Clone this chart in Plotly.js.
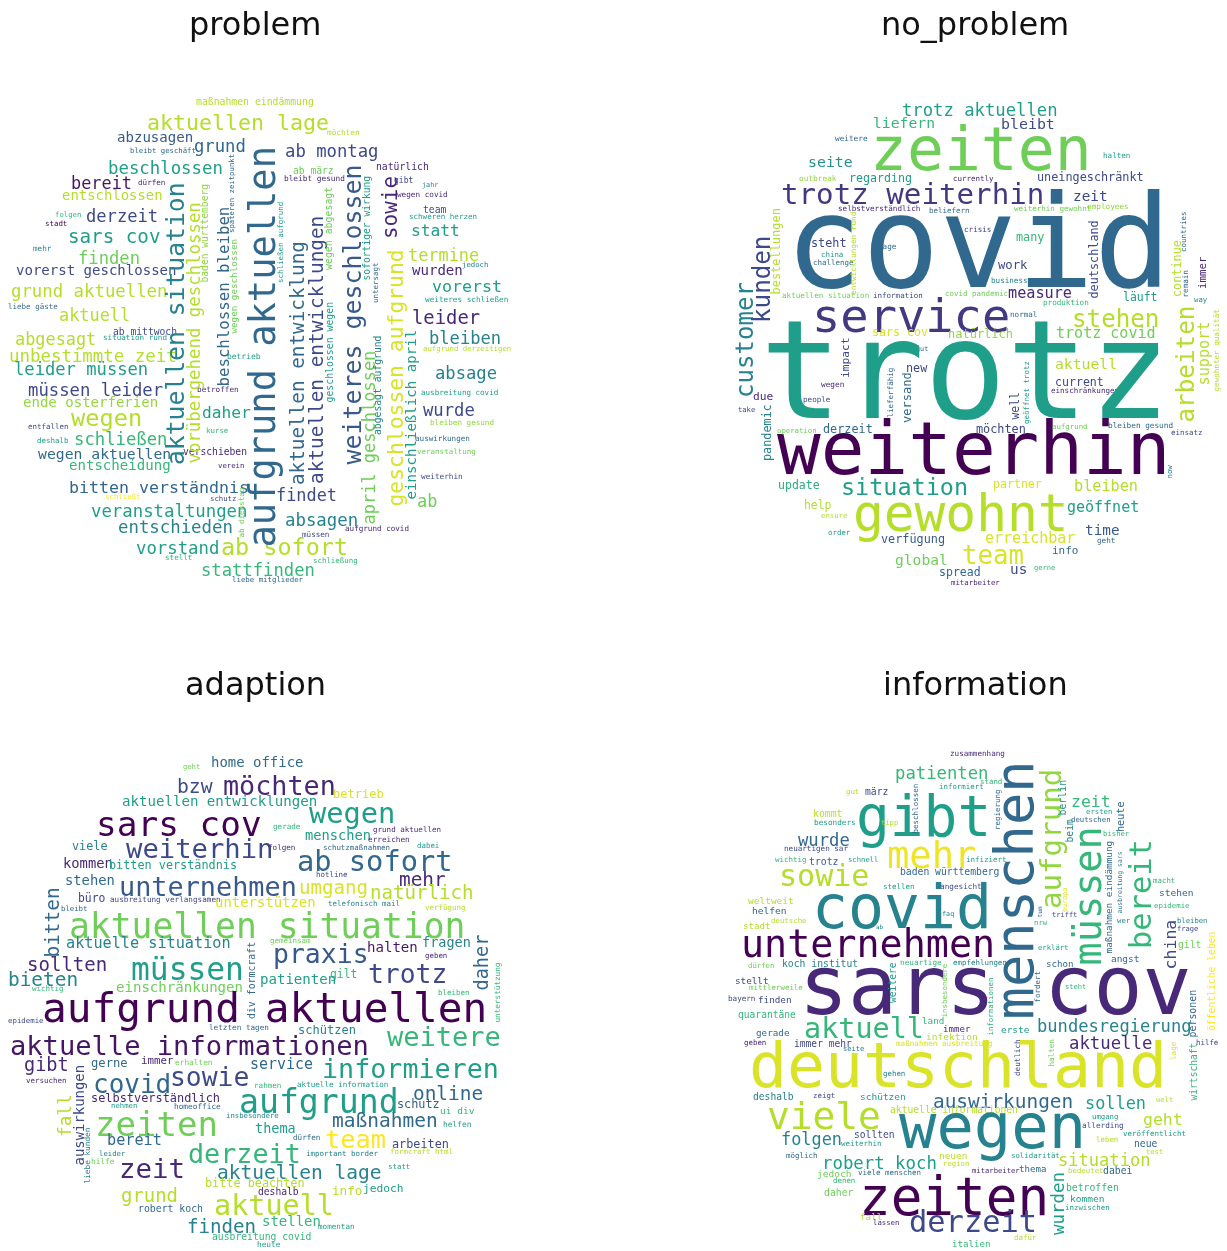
<!DOCTYPE html>
<html><head><meta charset="utf-8">
<script src="https://cdn.plot.ly/plotly-3.0.1.min.js"></script>
<style>html,body{margin:0;padding:0;background:#fff}#chart{width:1227px;height:1251px;filter:blur(0.45px)}</style>
</head><body><div id="chart"></div>
<script>
const titles = ["problem","no_problem","adaption","information"];
// Horizontal words: [word, left, right, middle, viridis shade 0-9]
// Vertical words:   [word, middle, top, bottom, viridis shade 0-9]
const problemH = [
["maßnahmen eindämmung",197,313,102,8],["aktuellen lage",148,327,123,8],["möchten",327,359,133,8],["abzusagen",117,192,138,2.5],["grund",194,245,147,3],["bleibt geschäft",130,195,151,3],["ab montag",285,377,152,2],["natürlich",376,428,167,1],["ab märz",293,333,171,7],["bleibt gesund",284,344,179,1],["gibt",394,413,181,2],["jahr",422,438,185,4],["beschlossen",109,222,169,5],["bereit",71,131,184,0.5],["dürfen",138,165,183,1],["entschlossen",63,162,196,8],["derzeit",86,157,217,2],["folgen",55,81,215,6],["stadt",45,67,224,0],["sars cov",69,160,237,5],["mehr",33,51,249,4],["finden",78,139,259,7],["vorerst geschlossen",17,175,271,2],["grund aktuellen",12,166,292,8],["liebe gäste",8,57,307,3],["aktuell",59,129,316,8],["ab mittwoch",113,176,332,2],["situation rund",103,166,338,5],["abgesagt",15,95,340,8],["unbestimmte zeit",10,175,357,8],["leider müssen",15,147,370,5],["müssen leider",29,162,391,2],["ende osterferien",24,157,403,7.5],["wegen",71,141,419,8],["entfallen",28,68,427,2],["schließen",74,166,440,6],["deshalb",37,68,441,5],["wegen aktuellen",39,170,454,3],["entscheidung",70,170,466,6],["bitten verständnis",70,247,488,3],["schließt",105,140,497,9],["schutz",210,236,499,2],["veranstaltungen",92,246,512,5],["entschieden",119,232,528,4],["vorstand",136,218,549,5],["ab sofort",222,347,548,8],["stellt",165,192,558,6],["stattfinden",202,314,571,6],["liebe mitglieder",233,303,580,3],["schließung",313,357,561,6],["müssen",302,329,535,2],["aufgrund covid",345,408,529,1],["absagen",285,357,521,4],["findet",276,336,496,2],["ab",417,437,502,7],["weiterhin",421,462,477,2],["veranstaltung",417,475,452,7],["auswirkungen",415,469,439,3],["bleiben gesund",430,493,423,7.5],["wurde",423,474,411,2],["ausbreitung covid",421,497,393,5],["absage",435,496,374,4],["aufgrund derzeitigen",423,510,349,8],["bleiben",429,500,339,4],["leider",412,479,318,1],["weiteres schließen",425,507,300,5],["vorerst",432,501,287,5],["wurden",412,462,271,1],["jedoch",462,488,265,4],["termine",408,478,256,8],["statt",411,459,231,5],["schweren herzen",409,476,217,5],["team",423,446,210,2],["wegen covid",397,447,195,1],["betrieb",227,260,357,5],["betroffen",197,238,390,1],["daher",202,250,413,5],["kurse",206,228,431,6],["verschieben",183,246,452,1],["verein",218,244,466,1]
];
const problemV = [
["aufgrund aktuellen",262,150,545,3],["aktuellen situation",175,185,463,4],["vorübergehend geschlossen",193,205,462,8],["baden württemberg",204,185,282,7.5],["beschlossen bleiben",223,208,385,3],["späteren zeitpunkt",232,155,233,3],["wegen geschlossen",233,240,333,7],["schließen aufgrund",281,203,283,5],["aktuellen entwicklung",297,243,483,3],["aktuellen entwicklungen",316,218,482,2],["wegen abgesagt",329,188,270,7],["geschlossen wegen",329,303,402,5],["weiteres geschlossen",352,167,462,2.5],["sofortiger wirkung",366,177,280,5],["untersagt",375,263,303,3],["april geschlossen",368,352,523,7],["abgesagt aufgrund",377,337,435,4],["sowie",390,177,239,1],["geschlossen aufgrund",395,252,505,8.5],["einschließlich april",410,331,498,5],["ab dienstag",241,488,537,7]
];
const noProblemH = [
["trotz aktuellen",903,1056,111,5],["liefern",873,934,123,6],["bleibt",1001,1054,125,2],["zeiten",872,1090,151,7],["weitere",835,867,139,3],["halten",1103,1130,156,5],["seite",808,852,163,4.5],["regarding",849,911,178,5],["outbreak",799,836,179,7.5],["currently",953,993,179,1],["uneingeschränkt",1038,1143,177,2],["trotz weiterhin",783,1042,195,1.5],["zeit",1073,1107,197,2],["selbstverständlich",838,919,209,1],["beliefern",929,969,211,3],["weiterhin gewohnt",1014,1090,209,7],["employees",1087,1128,207,7.5],["covid",788,1168,248,3],["steht",811,846,243,2],["china",821,843,255,5],["lage",878,896,247,3],["crisis",964,991,230,2],["challenge",813,853,263,3],["many",1016,1044,237,6],["work",998,1027,265,2],["business",991,1027,281,4],["measure",1008,1071,294,1],["covid pandemic",945,1007,294,7],["aktuellen situation",782,868,296,7],["information",873,922,296,2],["produktion",1043,1088,303,6],["läuft",1123,1157,297,5],["way",1194,1207,300,4],["normal",1010,1037,315,3],["service",813,1008,317,1.5],["stehen",1072,1158,320,8],["natürlich",948,1012,334,7.5],["sars cov",872,927,332,8.5],["trotz covid",1057,1155,334,7],["aktuell",1055,1116,364,8],["current",1055,1103,382,2],["einschränkungen",1051,1118,391,1],["new",906,927,368,2],["gut",916,928,349,3],["wegen",821,844,385,1],["people",803,830,400,2],["due",753,773,397,1],["take",738,755,410,2],["trotz",763,1167,376,5],["weiterhin",780,1167,452,0],["derzeit",823,872,429,3],["möchten",976,1025,429,2],["aufgrund",1052,1087,427,7],["bleiben gesund",1108,1172,426,3],["einsatz",1171,1202,433,2],["operation",777,816,431,7],["situation",842,967,488,5],["update",778,819,485,5.5],["partner",993,1041,484,8.5],["bleiben",1074,1137,487,8],["gewohnt",855,1067,516,8],["geöffnet",1067,1138,508,5],["help",804,831,505,8],["ensure",821,847,516,8],["order",828,850,533,5],["verfügung",881,944,539,2.5],["erreichbar",985,1074,539,8.5],["time",1085,1119,531,2.5],["info",1052,1078,551,3],["geht",1097,1115,541,3],["team",962,1023,556,8.5],["global",895,947,560,7],["spread",939,980,572,3],["us",1010,1027,570,2],["gerne",1034,1055,568,6],["mitarbeiter",951,999,583,1]
];
const noProblemV = [
["customer",745,283,397,4],["kunden",762,237,323,2],["bestellungen",776,209,294,8],["entwicklungen rund",854,213,295,8],["impact",845,338,378,2],["pandemic",767,405,461,4],["lieferfähig",890,368,417,3],["versand",907,373,423,3],["well",1014,393,420,2],["geöffnet trotz",1026,362,424,5],["deutschland",1093,221,298,2],["continue",1177,241,297,8],["countries",1184,212,252,3],["remain",1185,271,298,3],["immer",1202,257,289,1],["arbeiten",1185,307,422,8],["support",1203,322,385,8],["gewohnter qualität",1216,310,391,8],["now",1169,465,478,4]
];
const adaptionH = [
["geht",183,200,767,7],["home office",212,303,763,3],["möchten",224,335,787,1],["bzw",177,212,787,2],["betrieb",333,383,794,8.5],["aktuellen entwicklungen",123,315,802,5],["wegen",309,394,814,5],["sars cov",97,260,825,0],["gerade",273,300,827,6],["menschen",305,370,836,5],["grund aktuellen",373,440,830,1],["erreichen",368,409,840,1],["viele",72,107,846,4],["weiterhin",127,272,850,2],["folgen",268,295,848,1],["schutzmaßnahmen",323,389,848,3],["dabei",417,439,846,5],["ab sofort",298,451,862,3],["kommen",63,112,864,1],["bitten verständnis",110,236,865,5],["hotline",316,347,875,2],["stehen",65,114,881,3],["mehr",399,445,880,1],["unternehmen",120,295,888,2.5],["umgang",299,367,888,8.5],["natürlich",371,473,893,8],["büro",78,105,898,2],["ausbreitung verlangsamen",111,220,900,2],["unterstützen",216,315,903,8.5],["telefonisch mail",328,399,904,4],["verfügung",425,465,908,8],["bleibt",61,87,909,3],["aktuellen situation",72,462,927,7],["aktuelle situation",67,229,944,4],["gemeinsam",270,310,941,7],["fragen",422,470,943,4],["halten",367,417,948,0.5],["praxis",274,368,955,2.5],["geben",425,447,956,1],["sollten",27,106,965,1],["müssen",132,243,970,5],["trotz",368,446,975,2],["gilt",330,357,974,6],["patienten",260,335,980,5],["bieten",8,77,980,4],["einschränkungen",117,242,988,7],["wichtig",32,63,989,6],["bleiben",438,469,993,6],["epidemie",8,43,1021,2],["aufgrund aktuellen",45,483,1010,0],["letzten tagen",209,268,1028,3],["schützen",298,355,1030,4],["aktuelle informationen",13,366,1047,0.5],["weitere",388,500,1038,6],["gibt",24,68,1065,1],["gerne",91,127,1063,3],["immer",141,173,1061,1],["erhalten",175,212,1063,7],["service",250,312,1065,3],["informieren",323,497,1070,5],["covid",93,170,1085,3],["sowie",170,248,1078,2],["versuchen",26,66,1081,1],["rahmen",254,281,1086,6],["aktuelle information",297,387,1085,5],["online",413,482,1094,3],["selbstverständlich",92,219,1098,1],["aufgrund",240,397,1103,5],["schutz",397,439,1104,2.5],["ui div",440,474,1111,6],["nehmen",111,137,1106,5],["homeoffice",174,220,1107,3],["insbesondere",226,278,1116,4],["zeiten",96,217,1125,7],["maßnahmen",333,437,1121,3],["thema",255,295,1129,5],["helfen",443,471,1125,5],["dürfen",293,320,1138,3],["team",325,385,1140,9],["arbeiten",392,448,1144,2],["bereit",107,161,1141,3],["derzeit",189,300,1155,6],["leider",99,125,1154,4],["important border",307,378,1154,4],["formcraft html",390,452,1152,8],["hilfe",91,114,1162,7],["statt",388,410,1167,5],["zeit",119,184,1170,1],["aktuellen lage",218,380,1173,4],["bitte beachten",206,304,1183,8],["info",332,362,1191,8],["jedoch",363,403,1189,5],["deshalb",258,298,1192,1],["grund",121,177,1196,8],["aktuell",215,333,1207,8],["robert koch",138,202,1209,3],["finden",187,255,1227,4],["stellen",262,320,1222,6],["momentan",318,354,1227,5],["ausbreitung covid",212,310,1237,6],["heute",257,280,1245,5]
];
const adaptionV = [
["bitten",52,888,957,3],["div formcraft",251,943,1019,3],["unterstützung",497,963,1022,6],["daher",481,935,990,3],["fall",65,1095,1137,8],["auswirkungen",78,1066,1165,2],["liebe kunden",87,1128,1183,4]
];
const informationH = [
["zusammenhang",950,1004,754,1],["patienten",895,987,774,6],["stand",980,1002,782,6],["gut",846,859,792,8],["märz",865,888,792,2],["informiert",939,983,787,5],["gibt",857,990,819,5],["zeit",1071,1110,802,6],["ersten",1086,1112,812,5],["kommt",813,842,814,8],["besonders",814,855,823,5],["tipp",881,898,823,8],["deutschen",1071,1110,820,3],["bisher",1103,1129,834,6],["wurde",798,849,841,3],["neuartigen sar",784,847,849,2],["wichtig",775,806,860,6],["trotz",809,838,862,2.5],["schnell",848,878,860,5],["infiziert",966,1006,860,5],["mehr",887,975,857,8.8],["sowie",779,868,877,8],["baden württemberg",900,998,872,3],["macht",1153,1175,881,6],["stellen",883,914,887,5],["angesicht",940,981,887,2],["stehen",1159,1193,893,3],["weltweit",748,793,901,8],["helfen",752,786,911,3],["epidemie",1154,1189,906,6],["covid",813,990,910,4],["deutsche",771,806,921,8],["trifft",1052,1077,915,2],["faq",942,954,914,4],["wer",1117,1130,921,4],["bleiben",1177,1207,921,4],["frage",1177,1198,929,2],["stadt",743,770,926,8],["ab",876,883,927,4],["nrw",1034,1047,923,6],["gilt",1178,1201,945,7],["erklärt",1038,1068,948,5],["unternehmen",743,993,945,0],["angst",1111,1139,959,3],["koch institut",782,857,964,4],["neuartige",900,941,963,6],["empfehlungen",953,1006,963,4],["schon",1046,1073,964,3],["dürfen",748,774,966,7],["stellt",735,768,981,2],["mittlerweile",749,802,988,7],["steht",1065,1086,987,6],["sars cov",802,1188,989,1],["bayern",728,755,999,2],["finden",758,791,1000,2],["quarantäne",738,795,1015,6],["aktuell",805,923,1030,6],["land",922,944,1021,6],["immer",943,970,1029,1],["erste",1001,1029,1030,5],["bundesregierung",1038,1190,1027,4],["gerade",756,789,1033,3],["infektion",926,977,1037,8],["geben",744,766,1043,1],["immer mehr",794,851,1044,2],["maßnahmen ausbreitung",896,991,1044,8.5],["hilfe",1196,1218,1043,2],["aktuelle",1069,1151,1044,1],["seite",843,864,1049,4],["deutschland",752,1163,1068,8.5],["gehen",883,905,1074,4],["deshalb",753,793,1097,4],["zeigt",813,835,1096,2],["schützen",860,905,1097,5],["welt",1156,1173,1100,8],["auswirkungen",934,1072,1102,3],["sollen",1085,1145,1104,5],["aktuelle informationen",891,1017,1110,8],["viele",768,880,1118,8],["umgang",1092,1118,1117,5],["geht",1143,1182,1120,8],["allerding",1082,1123,1126,2],["sollten",854,894,1135,2],["veröffentlicht",1123,1185,1134,5],["leben",1096,1118,1140,8],["wegen",900,1084,1129,4],["folgen",781,841,1140,4],["weiterhin",841,881,1144,5],["neue",1134,1157,1144,3],["test",1146,1163,1152,8],["möglich",786,817,1156,3],["neuen",939,967,1156,8],["solidarität",1011,1059,1156,5],["situation",1058,1149,1161,8],["robert koch",823,936,1164,5],["region",943,969,1164,8],["jedoch",817,851,1174,7],["viele menschen",858,920,1173,3],["mitarbeiter",972,1019,1171,1],["thema",1019,1046,1169,3],["bedeutet",1068,1103,1171,8],["dabei",1103,1132,1171,3],["denen",833,855,1181,6],["zeiten",860,1047,1199,0],["betroffen",1066,1118,1188,6],["daher",824,853,1193,7],["kommen",1070,1104,1199,5],["inzwischen",1065,1109,1208,5],["fall",860,882,1217,8],["lassen",873,899,1223,1],["derzeit",910,1036,1223,2],["dafür",1014,1036,1238,8],["italien",952,990,1244,6]
];
const informationV = [
["menschen",1014,763,1018,3],["aufgrund",1051,770,908,7.5],["müssen",1087,828,965,6],["bereit",1140,840,948,6],["china",1170,920,969,2],["berlin",1062,780,815,4.5],["beim",1069,819,842,4],["heute",1120,802,832,3],["beschlossen",915,784,833,3],["regierung",997,790,830,3],["maßnahmen eindämmung",1108,842,953,3],["ausbreitung sars",1119,852,913,3.5],["europa",1065,888,912,8.5],["tun",1039,907,918,3],["personen",1192,990,1037,3],["öffentliche leben",1211,933,1031,9],["wirtschaft",1193,1043,1100,6],["lage",1173,1042,1060,8.5],["deutlich",1017,1040,1076,2],["halten",1051,1040,1067,7],["wurden",1058,1173,1235,5],["weitere",892,963,1003,5],["insbesondere",944,964,1017,7],["informationen",990,978,1035,5.5],["fordert",1037,972,1003,3]
];

const viridis = [[68,1,84],[72,40,120],[62,73,137],[49,104,142],[38,130,142],[31,158,137],[53,183,121],[110,206,88],[181,222,43],[253,231,37]];
function shade(v){
  const i = Math.min(8, Math.floor(v)), t = v - i;
  const c = viridis[i].map((a,k)=>Math.round(a + (viridis[i+1][k]-a)*t));
  return `rgb(${c[0]},${c[1]},${c[2]})`;
}
const W = 1227, H = 1251, CHAR = 0.592, FONT = "DejaVu Sans Mono, monospace";
const panels = [
  {h:problemH, v:problemV, xr:[0,510], yr:[600,80], tx:255, ty:24},
  {h:noProblemH, v:noProblemV, xr:[720,1227], yr:[600,80], tx:975, ty:24},
  {h:adaptionH, v:adaptionV, xr:[0,510], yr:[1251,740], tx:255, ty:684},
  {h:informationH, v:informationV, xr:[720,1227], yr:[1251,740], tx:975, ty:684}
];
const layout = {width:W, height:H, margin:{l:0,r:0,t:0,b:0}, paper_bgcolor:"#fff", plot_bgcolor:"#fff", showlegend:false, annotations:[]};
const traces = [];
panels.forEach((p,i)=>{
  const n = i===0 ? "" : String(i+1);
  const axis = {visible:false, fixedrange:true, autorange:false, showgrid:false, zeroline:false};
  layout["xaxis"+n] = {...axis, range:p.xr, domain:[p.xr[0]/W, p.xr[1]/W], anchor:"y"+n};
  layout["yaxis"+n] = {...axis, range:p.yr, domain:[1-p.yr[0]/H, 1-p.yr[1]/H], anchor:"x"+n};
  const xs=[], ys=[];
  const put=(word,x,y,len,s,angle)=>{
    const size = len/(word.length*CHAR);
    const yy = angle===0 ? y - 0.04*size : y;
    xs.push(x); ys.push(yy);
    layout.annotations.push({text:word, x, y:yy, xref:"x"+n, yref:"y"+n, showarrow:false, xanchor:"center", yanchor:"middle",
      textangle:angle, borderpad:0, borderwidth:0, font:{family:FONT, size, color:shade(s)}});
  };
  p.h.forEach(r=>put(r[0],(r[1]+r[2])/2,r[3],r[2]-r[1],r[4],0));
  p.v.forEach(r=>put(r[0],r[1],(r[2]+r[3])/2,r[3]-r[2],r[4],-90));
  traces.push({type:"scatter", mode:"markers", x:xs, y:ys, xaxis:"x"+n, yaxis:"y"+n, marker:{opacity:0,size:1}, hoverinfo:"skip"});
  layout.annotations.push({text:titles[i], xref:"paper", yref:"paper", x:p.tx/W, y:1-p.ty/H, showarrow:false, xanchor:"center", yanchor:"middle",
    font:{family:"DejaVu Sans, sans-serif", size:32, color:"#111"}});
});
Plotly.newPlot("chart", traces, layout, {staticPlot:true, displayModeBar:false});
</script></body></html>
